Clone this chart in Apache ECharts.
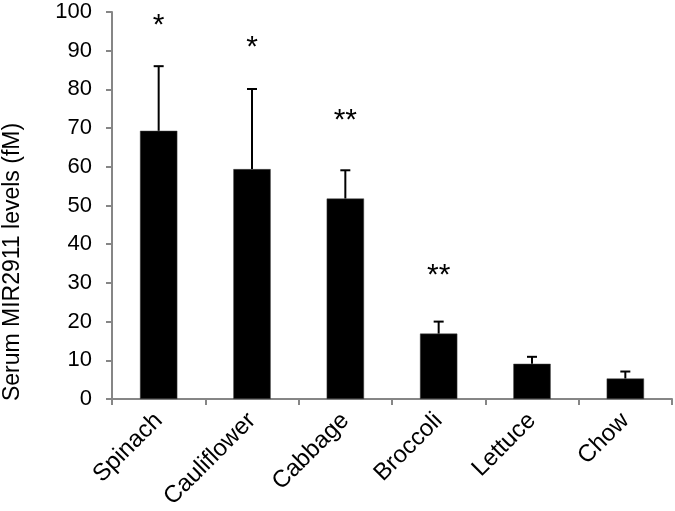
<!DOCTYPE html>
<html><head><meta charset="utf-8">
<script src="https://cdn.jsdelivr.net/npm/echarts@6/dist/echarts.min.js"></script>
<style>html,body{margin:0;padding:0;background:#fff}#c{width:675px;height:511px}</style>
</head><body><div id="c"></div>
<script>
var categories = ['Spinach','Cauliflower','Cabbage','Broccoli','Lettuce','Chow'];
var means = [69.3, 59.4, 51.8, 16.9, 9.1, 5.3];
var errUpper = [86.0, 80.1, 59.1, 20.0, 10.9, 7.1];
var sigMarks = ['*','*','**','**','',''];
var sigY = [97.5, 91.7, 73.0, 32.8, 0, 0];
var yTicks = [0,10,20,30,40,50,60,70,80,90,100];
var yTitle = 'Serum MIR2911 levels (fM)';

var chart = echarts.init(document.getElementById('c'));
var axisColor = '#868686';
var font = '"Liberation Sans", Arial, sans-serif';
chart.setOption({
  animation: false,
  grid: {left: 112, right: 3, top: 12, bottom: 112, outerBoundsMode: 'none', containLabel: false},
  graphic: [{
    type: 'text', x: 13, y: 262, rotation: Math.PI / 2,
    style: {text: yTitle, font: '23px ' + font, fill: '#000', align: 'center', verticalAlign: 'middle'}
  }],
  xAxis: {
    type: 'category', data: categories,
    axisLine: {lineStyle: {color: axisColor, width: 2}},
    axisTick: {show: true, length: 6, lineStyle: {color: axisColor, width: 2}},
    axisLabel: {rotate: 45, fontSize: 24, color: '#000', fontFamily: font, margin: 18}
  },
  yAxis: {
    type: 'value', min: yTicks[0], max: yTicks[yTicks.length-1], interval: 10,
    axisLine: {show: true, lineStyle: {color: axisColor, width: 2}},
    axisTick: {show: true, length: 6, lineStyle: {color: axisColor, width: 2}},
    splitLine: {show: false},
    axisLabel: {fontSize: 22, color: '#000', fontFamily: font, margin: 20}
  },
  series: [
    {
      type: 'bar', data: means, barWidth: '40%',
      itemStyle: {color: '#000', borderColor: '#444', borderWidth: 0.5}
    },
    {
      type: 'custom',
      data: categories.map(function(c, i){ return [i, means[i], errUpper[i], sigY[i]]; }),
      renderItem: function(params, api) {
        var i = api.value(0);
        var base = api.coord([i, api.value(1)]);
        var top = api.coord([i, api.value(2)]);
        var capW = 10;
        var children = [
          {type: 'line', shape: {x1: base[0], y1: base[1], x2: top[0], y2: top[1]}, style: {stroke: '#000', lineWidth: 2}},
          {type: 'line', shape: {x1: top[0]-capW/2, y1: top[1], x2: top[0]+capW/2, y2: top[1]}, style: {stroke: '#000', lineWidth: 2}}
        ];
        var mark = sigMarks[params.dataIndex];
        if (mark) {
          var p = api.coord([i, api.value(3)]);
          children.push({type: 'text', x: p[0], y: p[1] + 4, style: {text: mark, fill: '#000', font: '30px ' + font, align: 'center', verticalAlign: 'middle'}});
        }
        return {type: 'group', children: children};
      },
      z: 5
    }
  ]
});
</script></body></html>
